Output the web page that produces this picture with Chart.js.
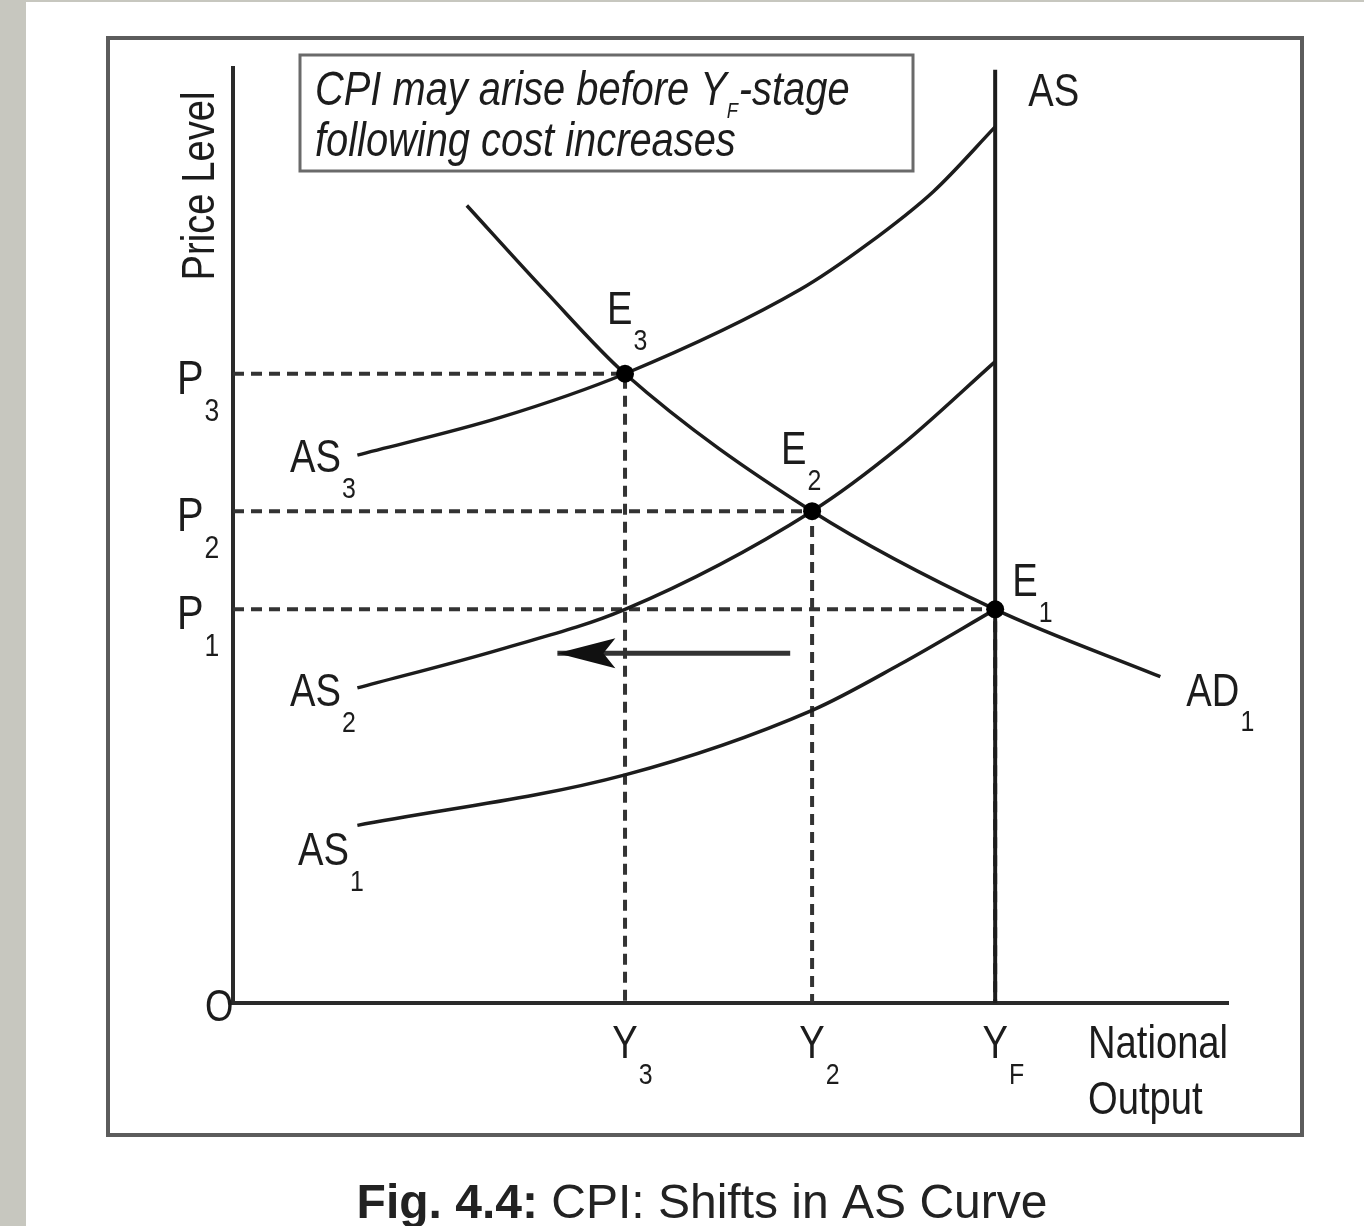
<!DOCTYPE html>
<html>
<head>
<meta charset="utf-8">
<script src="https://cdn.jsdelivr.net/npm/chart.js@4.4.1/dist/chart.umd.min.js"></script>
<style>
html, body { margin: 0; padding: 0; background: #fff; }
#wrap { position: relative; width: 1364px; height: 1226px; }
</style>
</head>
<body>
<div id="wrap"><canvas id="plot"></canvas></div>
<script>

// output levels on the x axis: Y3, Y2, YF
const outputTicks = [39.4, 58.2, 76.6];
const outputNames = ['3', '2', 'F'];

// price levels on the y axis: P3, P2, P1
const priceTicks = [67.3, 52.6, 42.1];
const priceNames = ['3', '2', '1'];

// supply curves
const as1X = [12.5, 39.4, 58.2, 67.0, 76.6];
const as1Y = [19.0, 24.4, 31.3, 36.2, 42.1];

const as2X = [12.5, 26.8, 39.4, 58.2, 67.0, 76.6];
const as2Y = [33.7, 37.8, 42.1, 52.6, 59.5, 68.6];

const as3X = [12.5, 26.8, 39.4, 57.0, 63.7, 70.4, 76.6];
const as3Y = [58.6, 62.6, 67.3, 76.3, 81.1, 86.8, 93.7];

// vertical AS at full employment
const asVertX = [76.6, 76.6];
const asVertY = [0, 99.8];

// demand curve
const ad1X = [23.5, 31.5, 39.4, 58.2, 76.6, 93.2];
const ad1Y = [85.3, 76.0, 67.3, 52.6, 42.1, 34.9];

// equilibria E3, E2, E1
const eqX = [39.4, 58.2, 76.6];
const eqY = [67.3, 52.6, 42.1];
const eqNames = ['3', '2', '1'];

// shift arrow (leftwards)
const arrowX = [56.0, 32.6];
const arrowY = [37.4, 37.4];

const INK = '#1c1c1c';
const FONT = '"Liberation Sans", Arial, sans-serif';
const SQ = 0.83; // condensed look of the printed labels

const pts = (xs, ys) => xs.map((v, i) => ({ x: v, y: ys[i] }));

function curve(xs, ys) {
	return {
		data: pts(xs, ys),
		showLine: true,
		borderColor: INK,
		borderWidth: 3.5,
		pointRadius: 0,
		cubicInterpolationMode: 'monotone',
		order: 2
	};
}

function guide(i) {
	return {
		data: [{ x: 0, y: eqY[i] }, { x: eqX[i], y: eqY[i] }, { x: eqX[i], y: 0 }],
		showLine: true,
		borderColor: '#333',
		borderWidth: 4,
		borderDash: [11, 7],
		pointRadius: 0,
		order: 3
	};
}

const datasets = [
	{ data: pts(eqX, eqY), pointRadius: 9, pointBackgroundColor: '#000', pointBorderWidth: 0, order: 0 },
	curve(as1X, as1Y),
	curve(as2X, as2Y),
	curve(as3X, as3Y),
	curve(ad1X, ad1Y),
	{ data: pts(asVertX, asVertY), showLine: true, borderColor: INK, borderWidth: 4, pointRadius: 0, order: 1 },
	{ data: pts(arrowX, arrowY), showLine: true, borderColor: '#333', borderWidth: 5, pointRadius: 0, order: 1 },
	guide(0), guide(1), guide(2)
];

// squeezed text, returns drawn width
function txt(ctx, s, x, y, size, style, align) {
	ctx.font = (style ? style + ' ' : '') + size + 'px ' + FONT;
	ctx.textAlign = 'left';
	ctx.textBaseline = 'alphabetic';
	const w = ctx.measureText(s).width * SQ;
	const left = align === 'center' ? x - w / 2 : x;
	ctx.save();
	ctx.translate(left, y);
	ctx.scale(SQ, 1);
	ctx.fillText(s, 0, 0);
	ctx.restore();
	return w;
}

// main letter with a subscript after it
function subText(ctx, main, s, x, y, size, align) {
	ctx.font = size + 'px ' + FONT;
	const w = ctx.measureText(main).width * SQ;
	const left = align === 'center' ? x - w / 2 : x;
	txt(ctx, main, left, y, size);
	txt(ctx, s, left + w + 1, y + size * 0.56, Math.round(size * 0.66));
}

const sketch = {
	id: 'sketch',
	beforeDraw(chart) {
		const ctx = chart.ctx;
		ctx.save();
		ctx.fillStyle = '#fff';
		ctx.fillRect(0, 0, chart.width, chart.height);
		ctx.fillStyle = '#c7c7bf';
		ctx.fillRect(0, 0, 26, chart.height);
		ctx.fillRect(0, 0, chart.width, 2);
		ctx.restore();
	},
	afterDraw(chart) {
		const { ctx, chartArea: a, scales: { x, y } } = chart;
		ctx.save();

		// outer frame
		ctx.strokeStyle = '#5c5c5c';
		ctx.lineWidth = 4;
		ctx.strokeRect(a.left - 125, a.top - 30, a.right - a.left + 199, a.bottom - a.top + 162);

		// note box
		ctx.strokeStyle = '#6a6a6a';
		ctx.lineWidth = 3;
		ctx.strokeRect(a.left + 67, a.top - 13, 613, 116);

		ctx.fillStyle = INK;
		const w1 = txt(ctx, 'CPI may arise before Y', a.left + 82, a.top + 37, 48, 'italic');
		txt(ctx, 'F', a.left + 82 + w1, a.top + 50, 22, 'italic');
		txt(ctx, '-stage', a.left + 94 + w1, a.top + 37, 48, 'italic');
		txt(ctx, 'following cost increases', a.left + 82, a.top + 88, 48, 'italic');

		// axis titles
		ctx.save();
		ctx.translate(a.left - 19, a.top + 118);
		ctx.rotate(-Math.PI / 2);
		txt(ctx, 'Price Level', 0, 0, 46, '', 'center');
		ctx.restore();
		txt(ctx, 'National', a.right - 140, a.bottom + 55, 46);
		txt(ctx, 'Output', a.right - 140, a.bottom + 111, 46);
		txt(ctx, 'O', a.left - 28, a.bottom + 18, 44);

		// tick labels
		outputTicks.forEach((v, i) => subText(ctx, 'Y', outputNames[i], x.getPixelForValue(v), a.bottom + 55, 46, 'center'));
		priceTicks.forEach((v, i) => subText(ctx, 'P', priceNames[i], a.left - 56, y.getPixelForValue(v) + 20, 48));

		// curve labels
		subText(ctx, 'AS', '1', a.left + 65, y.getPixelForValue(as1Y[0]) + 40, 46);
		subText(ctx, 'AS', '2', a.left + 57, y.getPixelForValue(as2Y[0]) + 18, 46);
		subText(ctx, 'AS', '3', a.left + 57, y.getPixelForValue(as3Y[0]) + 17, 46);
		subText(ctx, 'AD', '1', x.getPixelForValue(ad1X[ad1X.length - 1]) + 26, y.getPixelForValue(ad1Y[ad1Y.length - 1]) + 29, 46);
		txt(ctx, 'AS', x.getPixelForValue(asVertX[0]) + 33, a.top + 38, 46);

		// equilibrium labels
		const eqOff = [[-18, -50], [-31, -47], [17, -13]];
		eqX.forEach((v, i) => subText(ctx, 'E', eqNames[i], x.getPixelForValue(v) + eqOff[i][0], y.getPixelForValue(eqY[i]) + eqOff[i][1], 46));

		// arrow head
		const tx = x.getPixelForValue(arrowX[1]);
		const ty = y.getPixelForValue(arrowY[1]);
		ctx.fillStyle = '#111';
		ctx.beginPath();
		ctx.moveTo(tx, ty);
		ctx.lineTo(tx + 58, ty - 15);
		ctx.lineTo(tx + 46, ty);
		ctx.lineTo(tx + 58, ty + 15);
		ctx.closePath();
		ctx.fill();

		// caption
		ctx.fillStyle = '#222';
		ctx.textAlign = 'left';
		ctx.font = 'bold 48px ' + FONT;
		const cap1 = 'Fig. 4.4:';
		const cw1 = ctx.measureText(cap1).width;
		ctx.font = '48px ' + FONT;
		const cap2 = ' CPI: Shifts in AS Curve';
		const cw2 = ctx.measureText(cap2).width;
		const cx = 702 - (cw1 + cw2) / 2;
		ctx.font = 'bold 48px ' + FONT;
		ctx.fillText(cap1, cx, 1218);
		ctx.font = '48px ' + FONT;
		ctx.fillText(cap2, cx + cw1, 1218);

		ctx.restore();
	}
};

new Chart(document.getElementById('plot'), {
	type: 'scatter',
	data: { datasets },
	options: {
		responsive: true,
		maintainAspectRatio: false,
		animation: false,
		layout: {
			padding: { left: 233, right: 136, top: 68, bottom: 223 }
		},
		plugins: {
			legend: { display: false },
			tooltip: { enabled: false }
		},
		scales: {
			x: {
				type: 'linear',
				min: 0,
				max: 100,
				grid: { display: false },
				ticks: { display: false },
				border: { display: true, color: '#2a2a2a', width: 4 },
				afterFit(s) { s.height = 0; }
			},
			y: {
				type: 'linear',
				min: 0,
				max: 100,
				grid: { display: false },
				ticks: { display: false },
				border: { display: true, color: '#2a2a2a', width: 4 },
				afterFit(s) { s.width = 0; }
			}
		}
	},
	plugins: [sketch]
});
</script>
</body>
</html>
